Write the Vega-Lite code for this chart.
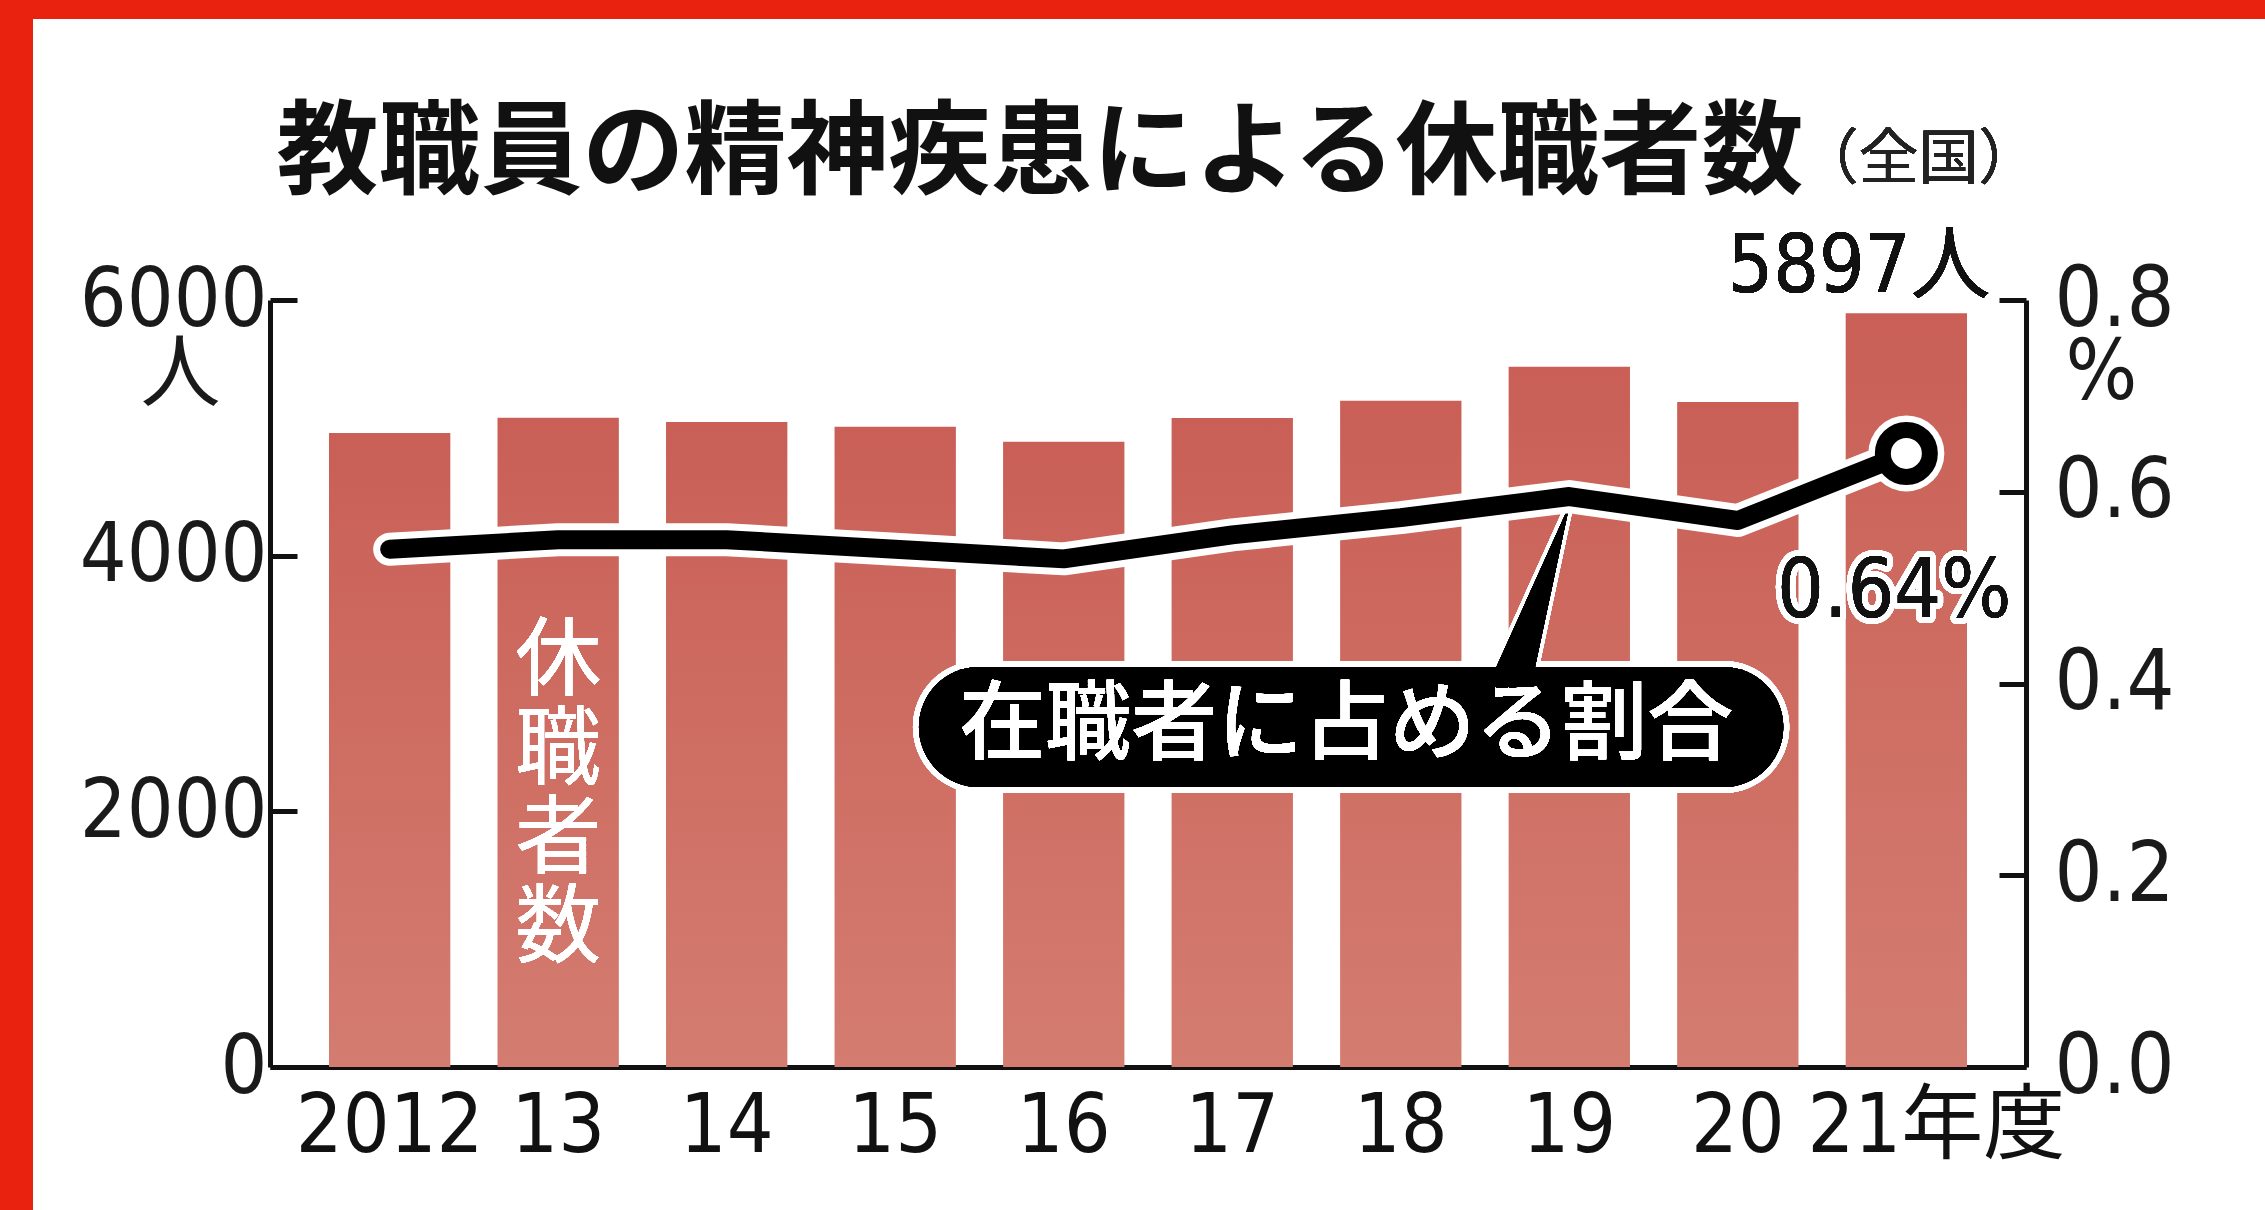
{
  "$schema": "https://vega.github.io/schema/vega-lite/v6.json",
  "width": 2232,
  "height": 1191,
  "autosize": {"type": "none"},
  "padding": {"left": 33, "top": 19, "right": 0, "bottom": 0},
  "background": "#e8220f",
  "config": {"view": {"fill": "white", "stroke": null}, "axis": {"grid": false}},
  "title": {
    "text": "教職員の精神疾患による休職者数",
    "font": "Noto Sans CJK JP",
    "fontSize": 102,
    "fontWeight": "bold",
    "color": "#111111",
    "anchor": "middle",
    "frame": "group",
    "dx": -109,
    "dy": 290,
    "offset": 0,
    "baseline": "bottom"
  },
  "data": {
    "values": [
      {"year": "2012", "count": 4960, "ratio": 0.54},
      {"year": "2013", "count": 5078, "ratio": 0.55},
      {"year": "2014", "count": 5045, "ratio": 0.55},
      {"year": "2015", "count": 5009, "ratio": 0.54},
      {"year": "2016", "count": 4891, "ratio": 0.53},
      {"year": "2017", "count": 5077, "ratio": 0.555},
      {"year": "2018", "count": 5212, "ratio": 0.573},
      {"year": "2019", "count": 5478, "ratio": 0.595},
      {"year": "2020", "count": 5203, "ratio": 0.57},
      {"year": "2021", "count": 5897, "ratio": 0.64}
    ]
  },
  "layer": [
    {
      "layer": [
        {
          "mark": {
            "type": "bar",
            "fill": {
              "gradient": "linear",
              "x1": 0, "y1": 0, "x2": 0, "y2": 1,
              "stops": [{"offset": 0, "color": "#c95f56"}, {"offset": 1, "color": "#d47c70"}]
            }
          },
          "encoding": {
            "x": {
              "field": "year",
              "type": "ordinal",
              "scale": {"range": [237, 1993], "paddingInner": 0.28, "paddingOuter": 0.35},
              "axis": {
                "orient": "bottom",
                "offset": -143,
                "ticks": false,
                "domainColor": "#111111",
                "domainWidth": 5,
                "labelFont": "DejaVu Sans Condensed, Roboto, Noto Sans CJK JP, sans-serif",
                "labelFontSize": 82,
                "labelLimit": 0,
                "labelColor": "#111111",
                "labelPadding": 19,
                "labelAngle": 0,
                "title": null,
                "labelExpr": "datum.value == '2012' ? '2012' : (datum.value == '2021' ? '21年度' : substring(datum.value, 2))",
                "labelOffset": {"condition": {"test": "datum.value == '2021'", "value": 30}, "value": 0}
              }
            },
            "y": {
              "field": "count",
              "type": "quantitative",
              "scale": {"domain": [0, 6000], "range": [1048, 281]},
              "axis": {
                "orient": "left",
                "offset": -237,
                "values": [0, 2000, 4000, 6000],
                "format": "d",
                "domainColor": "#111111",
                "domainWidth": 5,
                "tickColor": "#111111",
                "tickWidth": 5,
                "tickSize": -27,
                "labelPadding": 30,
                "labelLimit": 0,
                "labelFont": "DejaVu Sans Condensed, Roboto, sans-serif",
                "labelFontSize": 82,
                "labelColor": "#1a1a1a",
                "title": "人",
                "titleFont": "Noto Sans CJK JP",
                "titleFontSize": 80,
                "titleFontWeight": "normal",
                "titleColor": "#1a1a1a",
                "titleAngle": 0,
                "titleX": -90,
                "titleY": 356,
                "titleAlign": "center",
                "titleBaseline": "middle"
              }
            }
          }
        },
        {
          "mark": {"type": "text", "text": ["休", "職", "者", "数"], "color": "white", "font": "Noto Sans CJK JP", "fontSize": 86, "lineHeight": 89, "baseline": "middle", "align": "center"},
          "encoding": {
            "x": {"datum": "2013", "type": "ordinal"},
            "y": {"datum": 3160, "type": "quantitative", "scale": {"domain": [0, 6000], "range": [1048, 281]}}
          }
        },
        {
          "mark": {"type": "text", "text": "5897人", "color": "#111111", "font": "DejaVu Sans Condensed, Roboto, Noto Sans CJK JP, sans-serif", "fontSize": 80, "baseline": "alphabetic", "align": "center"},
          "encoding": {
            "x": {"datum": "2021", "type": "ordinal", "bandPosition": 0.11},
            "y": {"datum": 6060, "type": "quantitative", "scale": {"domain": [0, 6000], "range": [1048, 281]}}
          }
        },
        {
          "mark": {"type": "text", "text": "（全国）", "color": "#222222", "font": "Noto Sans CJK JP", "fontSize": 60, "baseline": "middle", "align": "center"},
          "encoding": {
            "x": {"datum": "2021", "type": "ordinal", "bandPosition": 0.6},
            "y": {"datum": 7090, "type": "quantitative", "scale": {"domain": [0, 6000], "range": [1048, 281]}}
          }
        },
        {
          "mark": {"type": "point", "shape": "M0.433,-0.944L-0.444,1L0.02,1Z", "size": 32400, "filled": true, "fill": "black", "stroke": "white", "strokeWidth": 8, "opacity": 1},
          "encoding": {
            "x": {"datum": "2019", "type": "ordinal", "bandPosition": 0.18},
            "y": {"datum": 3731, "type": "quantitative", "scale": {"domain": [0, 6000], "range": [1048, 281]}}
          }
        },
        {
          "mark": {"type": "rule", "stroke": "white", "strokeWidth": 132, "strokeCap": "round"},
          "encoding": {
            "x": {"datum": "2015", "type": "ordinal", "bandPosition": 1.19},
            "x2": {"datum": "2020", "bandPosition": 0.38},
            "y": {"datum": 2660, "type": "quantitative", "scale": {"domain": [0, 6000], "range": [1048, 281]}}
          }
        },
        {
          "mark": {"type": "rule", "stroke": "black", "strokeWidth": 120, "strokeCap": "round"},
          "encoding": {
            "x": {"datum": "2015", "type": "ordinal", "bandPosition": 1.19},
            "x2": {"datum": "2020", "bandPosition": 0.38},
            "y": {"datum": 2660, "type": "quantitative", "scale": {"domain": [0, 6000], "range": [1048, 281]}}
          }
        },
        {
          "mark": {"type": "point", "shape": "M0.433,-0.944L-0.444,1L0.02,1Z", "size": 32400, "filled": true, "fill": "black", "strokeWidth": 0, "opacity": 1},
          "encoding": {
            "x": {"datum": "2019", "type": "ordinal", "bandPosition": 0.18},
            "y": {"datum": 3731, "type": "quantitative", "scale": {"domain": [0, 6000], "range": [1048, 281]}}
          }
        },
        {
          "mark": {"type": "text", "text": "在職者に占める割合", "color": "white", "font": "Noto Sans CJK JP", "fontSize": 86, "fontWeight": 500, "baseline": "middle", "align": "center"},
          "encoding": {
            "x": {"datum": "2018", "type": "ordinal", "bandPosition": 0.05},
            "y": {"datum": 2660, "type": "quantitative", "scale": {"domain": [0, 6000], "range": [1048, 281]}}
          }
        }
      ]
    },
    {
      "layer": [
        {
          "mark": {"type": "line", "stroke": "white", "strokeWidth": 33, "strokeCap": "round", "strokeJoin": "round"},
          "encoding": {
            "x": {"field": "year", "type": "ordinal"},
            "y": {
              "field": "ratio",
              "type": "quantitative",
              "scale": {"domain": [0, 0.8], "range": [1048, 281]},
              "axis": {
                "orient": "right",
                "offset": -239,
                "values": [0, 0.2, 0.4, 0.6, 0.8],
                "format": ".1f",
                "domainColor": "#111111",
                "domainWidth": 5,
                "tickColor": "#111111",
                "tickWidth": 5,
                "tickSize": -27,
                "labelPadding": 55,
                "labelLimit": 0,
                "labelFont": "DejaVu Sans Condensed, Roboto, sans-serif",
                "labelFontSize": 84,
                "labelColor": "#1a1a1a",
                "title": "%",
                "titleFont": "DejaVu Sans Condensed, Roboto, sans-serif",
                "titleFontSize": 84,
                "titleFontWeight": "normal",
                "titleColor": "#1a1a1a",
                "titleAngle": 0,
                "titleX": 75,
                "titleY": 354,
                "titleAlign": "center",
                "titleBaseline": "middle"
              }
            }
          }
        },
        {
          "transform": [{"filter": "datum.year == '2021'"}],
          "mark": {"type": "point", "shape": "circle", "filled": true, "fill": "white", "size": 5776, "opacity": 1, "strokeWidth": 0},
          "encoding": {
            "x": {"field": "year", "type": "ordinal"},
            "y": {"field": "ratio", "type": "quantitative", "scale": {"domain": [0, 0.8], "range": [1048, 281]}}
          }
        },
        {
          "mark": {"type": "line", "stroke": "black", "strokeWidth": 19, "strokeCap": "round", "strokeJoin": "round"},
          "encoding": {
            "x": {"field": "year", "type": "ordinal"},
            "y": {"field": "ratio", "type": "quantitative", "scale": {"domain": [0, 0.8], "range": [1048, 281]}}
          }
        },
        {
          "transform": [{"filter": "datum.year == '2021'"}],
          "mark": {"type": "point", "shape": "circle", "filled": true, "fill": "white", "stroke": "black", "strokeWidth": 16, "size": 2209, "opacity": 1},
          "encoding": {
            "x": {"field": "year", "type": "ordinal"},
            "y": {"field": "ratio", "type": "quantitative", "scale": {"domain": [0, 0.8], "range": [1048, 281]}}
          }
        },
        {
          "mark": {"type": "text", "text": "0.64%", "color": "white", "stroke": "white", "strokeWidth": 12, "strokeJoin": "round", "font": "DejaVu Sans Condensed, Roboto, sans-serif", "fontSize": 82, "baseline": "middle", "align": "center"},
          "encoding": {
            "x": {"datum": "2021", "type": "ordinal", "bandPosition": 0.4},
            "y": {"datum": 0.495, "type": "quantitative", "scale": {"domain": [0, 0.8], "range": [1048, 281]}}
          }
        },
        {
          "mark": {"type": "text", "text": "0.64%", "color": "#111111", "font": "DejaVu Sans Condensed, Roboto, sans-serif", "fontSize": 82, "baseline": "middle", "align": "center"},
          "encoding": {
            "x": {"datum": "2021", "type": "ordinal", "bandPosition": 0.4},
            "y": {"datum": 0.495, "type": "quantitative", "scale": {"domain": [0, 0.8], "range": [1048, 281]}}
          }
        }
      ]
    }
  ],
  "resolve": {"scale": {"y": "independent"}, "axis": {"y": "independent"}}
}
